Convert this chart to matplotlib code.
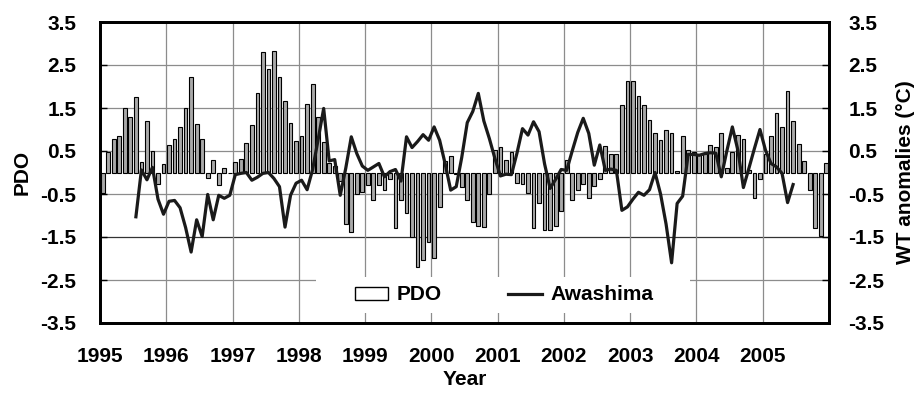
import numpy as np
import matplotlib
matplotlib.use("Agg")
import matplotlib.pyplot as plt
from matplotlib.patches import Patch, Rectangle
from matplotlib.lines import Line2D

# ---- data ----
years = [str(y) for y in range(1995, 2006)]
pdo = [-0.47, 0.48, 0.79, 0.85, 1.50, 1.29, 1.76, 0.25, 1.19, 0.50, -0.26, 0.19,
       0.63, 0.79, 1.06, 1.50, 2.22, 1.12, 0.79, -0.13, 0.29, -0.29, 0.11, 0.00,
       0.25, 0.32, 0.69, 1.10, 1.86, 2.80, 2.40, 2.83, 2.22, 1.66, 1.16, 0.73,
       0.85, 1.60, 2.05, 1.29, 0.72, 0.22, 0.15, -0.20, -1.20, -1.38, -0.49, -0.45,
       -0.29, -0.64, -0.29, -0.41, -0.14, -1.28, -0.64, -0.94, -1.50, -2.20, -2.04, -1.61,
       -1.98, -0.80, 0.27, 0.38, -0.03, -0.33, -0.64, -1.16, -1.24, -1.27, -0.49, 0.52,
       0.60, 0.30, 0.47, -0.24, -0.26, -0.47, -1.30, -0.72, -1.34, -1.34, -1.25, -0.90,
       0.30, -0.63, -0.40, -0.26, -0.60, -0.32, -0.15, 0.62, 0.44, 0.44, 1.56, 2.13,
       2.13, 1.78, 1.56, 1.22, 0.93, 0.75, 0.98, 0.91, 0.04, 0.85, 0.53, 0.48,
       0.44, 0.43, 0.65, 0.60, 0.92, 0.10, 0.48, 0.88, 0.79, 0.05, -0.60, -0.15,
       0.44, 0.85, 1.39, 1.05, 1.90, 1.19, 0.67, 0.27, -0.41, -1.30, -1.48, 0.21]
awashima_start = 6  # first month with data (Jul 1995)
awashima = [-1.03, 0.06, -0.17, 0.12, -0.62, -0.97,
            -0.67, -0.65, -0.82, -1.28, -1.85, -1.10, -1.49, -0.51, -1.10, -0.53, -0.60, -0.53,
            -0.05, -0.02, 0.00, -0.18, -0.11, -0.02, 0.00, -0.14, -0.33, -1.27, -0.53, -0.25,
            -0.18, -0.40, 0.07, 0.77, 1.49, 0.27, 0.30, -0.53, 0.10, 0.83, 0.44, 0.15,
            0.05, 0.13, 0.21, -0.10, 0.02, 0.07, -0.20, 0.83, 0.58, 0.72, 0.88, 0.75,
            1.06, 0.75, 0.20, -0.41, -0.33, 0.35, 1.16, 1.42, 1.84, 1.20, 0.79, 0.33,
            -0.08, -0.04, -0.05, 0.45, 1.02, 0.87, 1.18, 0.95, 0.20, -0.37, -0.16, 0.07,
            0.05, 0.50, 0.93, 1.26, 0.91, 0.17, 0.64, 0.05, 0.08, 0.05, -0.88, -0.80,
            -0.62, -0.46, -0.53, -0.40, 0.00, -0.50, -1.20, -2.10, -0.72, -0.55, 0.42, 0.42,
            0.40, 0.44, 0.46, 0.45, -0.10, 0.50, 1.06, 0.52, -0.35, 0.10, 0.56, 1.00,
            0.52, 0.21, 0.13, -0.02, -0.70, -0.28]
yticks = [3.5, 2.5, 1.5, 0.5, -0.5, -1.5, -2.5, -3.5]

plt.rcParams["font.family"] = ["Liberation Sans", "DejaVu Sans"]
plt.rcParams["font.weight"] = "bold"
fs = 15

fig = plt.figure(figsize=(9.18, 3.93), dpi=100)
ax = fig.add_axes([100/918, 1-323/393, 729/918, 301/393])

n = len(pdo)
x = np.arange(n) + 0.5
ax.bar(x, pdo, width=0.68, facecolor="#a9a9a9", edgecolor="black",
       linewidth=0.8, zorder=3)
xa = np.arange(len(awashima)) + awashima_start + 0.5
ax.plot(xa, awashima, color="#1a1a1a", lw=2.3, zorder=4)

ax.set_xlim(0, n)
ax.set_ylim(-3.5, 3.5)
ax.set_xticks(np.arange(0, n, 12))
ax.set_xticklabels(years)
ax.set_yticks(yticks)
ax.set_yticklabels([f"{v:.1f}" for v in yticks])
for v in [2.5, 1.5, 0.5, -0.5, -1.5, -2.5]:
    ax.axhline(v, color="#333333" if v == -1.5 else "#8c8c8c", lw=0.9, zorder=1)
for k in range(12, n, 12):
    ax.axvline(k, color="#8c8c8c", lw=0.9, zorder=1)

# white legend background area (as in the reference)
ax.add_patch(Rectangle((316/918, 1-313/393), 374/918, 36/393,
                       transform=fig.transFigure, facecolor="white",
                       edgecolor="none", zorder=2))

ax.tick_params(axis="x", length=0, pad=17, labelsize=fs)
ax.tick_params(axis="y", direction="in", length=5, width=1, pad=17, labelsize=fs)
for s in ax.spines.values():
    s.set_linewidth(2.0)
    s.set_zorder(5)
ax.set_ylabel("PDO", fontsize=fs, fontweight="bold", labelpad=6)
ax.set_xlabel("Year", fontsize=fs, fontweight="bold", labelpad=3)

ax2 = ax.twinx()
ax2.set_ylim(-3.5, 3.5)
ax2.set_yticks(yticks)
ax2.set_yticklabels([f"{v:.1f}" for v in yticks])
ax2.tick_params(axis="y", direction="in", length=5, width=1, pad=14, labelsize=fs)
for s in ax2.spines.values():
    s.set_linewidth(2.0)
ax2.set_ylabel("WT anomalies (°C)", fontsize=fs, fontweight="bold",
               rotation=90, labelpad=8)

handles = [Patch(facecolor="white", edgecolor="black", linewidth=1.0),
           Line2D([], [], color="#1a1a1a", lw=2.3)]
leg = ax.legend(handles, ["PDO", "Awashima"], loc="center",
                bbox_to_anchor=(504/918, 1-295/393),
                bbox_transform=fig.transFigure, ncol=2, frameon=False,
                fontsize=fs, handlelength=1.6, handleheight=0.6, handletextpad=0.4,
                columnspacing=3.2, borderpad=0.3)
for t in leg.get_texts():
    t.set_fontweight("bold")
leg.set_zorder(6)

fig.savefig("out.png", dpi=100)
